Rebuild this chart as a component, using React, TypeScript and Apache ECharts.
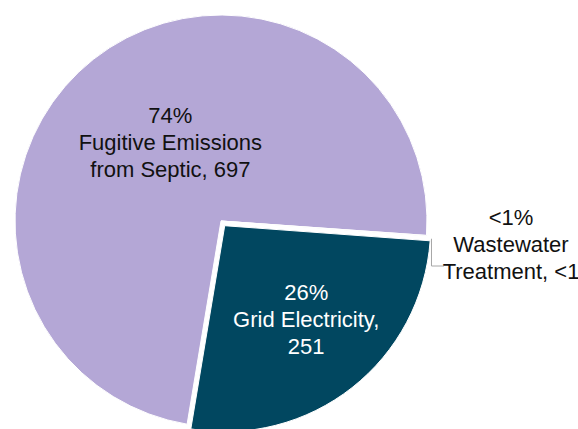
import React, { useEffect, useRef } from 'react';
import * as echarts from 'echarts';

const categories = ['Grid Electricity', 'Fugitive Emissions from Septic', 'Wastewater Treatment'];
const labelNames = ['Grid Electricity,\n', 'Fugitive Emissions\nfrom Septic, ', 'Wastewater\nTreatment, '];
const values = [251, 697, 0.5];
const percentLabels = ['26%', '74%', '<1%'];
const valueLabels = ['251', '697', '<1'];
const colors = ['#014760', '#B4A7D6', '#A6A6A6'];
const labelColors = ['#FFFFFF', '#111111', '#111111'];

export default function App() {
  const ref = useRef<HTMLDivElement>(null);
  useEffect(() => {
    if (!ref.current) return;
    const chart = echarts.init(ref.current, undefined, { renderer: 'svg' });
    const cx = 221;
    const cy = 221;
    const R = 206;
    const data = categories.map((c, i) => {
      const item: any = {
        name: c,
        value: values[i],
        itemStyle: { color: colors[i] },
        label: { color: labelColors[i] },
      };
      if (i === 0) item.selected = true;
      if (i === 2) {
        item.label = { color: labelColors[i], position: 'outside', align: 'center' };
        item.labelLine = { show: true, lineStyle: { color: '#A6A6A6', width: 1 } };
      }
      return item;
    });
    chart.setOption({
      animation: false,
      backgroundColor: '#FFFFFF',
      series: [
        {
          type: 'pie',
          center: [cx, cy],
          radius: R,
          startAngle: -4.2,
          clockwise: true,
          avoidLabelOverlap: false,
          selectedMode: 'single',
          selectedOffset: 6,
          emphasis: { disabled: true },
          itemStyle: { borderColor: '#FFFFFF', borderWidth: 1 },
          label: {
            show: true,
            position: 'inside',
            fontFamily: 'Liberation Sans, Arial, sans-serif',
            fontSize: 22,
            lineHeight: 27,
            align: 'center',
            formatter: (p: any) => `${percentLabels[p.dataIndex]}\n${labelNames[p.dataIndex]}${valueLabels[p.dataIndex]}`,
          },
          labelLine: { show: false },
          labelLayout: (params: any) => {
            const i = params.dataIndex;
            if (i === 0) return { dx: 16, dy: 10 };
            if (i === 1) return { dx: 15, dy: 5 };
            const a = (-4.1 * Math.PI) / 180;
            const p0 = params.labelLinePoints && params.labelLinePoints[0]
              ? params.labelLinePoints[0]
              : [cx + R * Math.cos(a), cy - R * Math.sin(a)];
            const lx = 511;
            const ly = 244;
            return {
              x: lx,
              y: ly,
              align: 'center',
              verticalAlign: 'middle',
              labelLinePoints: [
                [p0[0] + 5, p0[1] + 3],
                [p0[0] + 5, ly + 22],
                [lx - 67, ly + 22],
              ],
            };
          },
          data,
        },
      ],
    });
    return () => chart.dispose();
  }, []);
  return <div ref={ref} style={{ position: 'absolute', left: 0, top: 0, width: 578, height: 429 }} />;
}
